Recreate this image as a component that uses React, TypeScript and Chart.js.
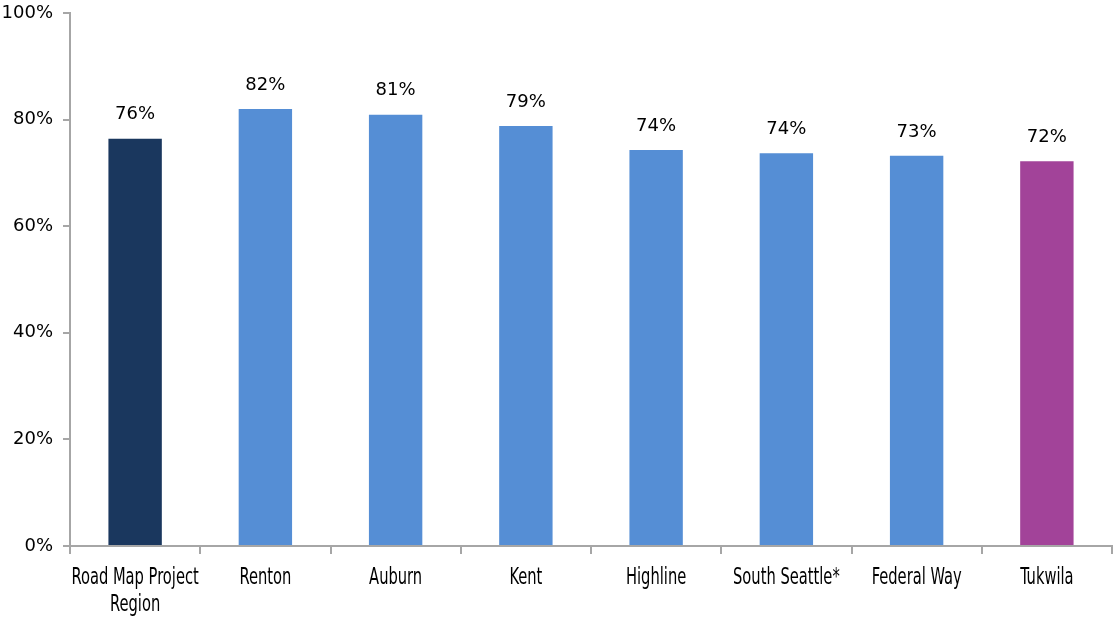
import React, { useEffect, useRef } from "react";
import { Chart, registerables } from "chart.js";

Chart.register(...registerables);

const categories: string[][] = [
  ["Road Map Project", "Region"],
  ["Renton"],
  ["Auburn"],
  ["Kent"],
  ["Highline"],
  ["South Seattle*"],
  ["Federal Way"],
  ["Tukwila"],
];
const values = [76.4, 82.0, 80.9, 78.8, 74.3, 73.7, 73.2, 72.2];
const valueLabels = ["76%", "82%", "81%", "79%", "74%", "74%", "73%", "72%"];
const barColors = ["#1A375E", "#558ED5", "#558ED5", "#558ED5", "#558ED5", "#558ED5", "#558ED5", "#A24399"];
const yTicks = [0, 20, 40, 60, 80, 100];

const labelPlugin = {
  id: "valueLabels",
  afterDatasetsDraw(chart: any) {
    const ctx = chart.ctx;
    const meta = chart.getDatasetMeta(0);
    ctx.save();
    ctx.font = "18px 'DejaVu Sans', sans-serif";
    ctx.fillStyle = "#000";
    ctx.textAlign = "center";
    ctx.textBaseline = "middle";
    meta.data.forEach((bar: any, i: number) => {
      ctx.fillText(valueLabels[i], bar.x, bar.y - 24);
    });
    // condensed category labels
    const xScale = chart.scales.x;
    const base = chart.chartArea.bottom;
    ctx.font = "23px 'DejaVu Sans Condensed', 'DejaVu Sans', sans-serif";
    const sx = 0.71;
    categories.forEach((lines, i) => {
      const cx = xScale.getPixelForValue(i);
      lines.forEach((line, j) => {
        ctx.save();
        ctx.translate(cx, base + 32 + j * 27);
        ctx.scale(sx, 1);
        ctx.fillText(line, 0, 0);
        ctx.restore();
      });
    });
    ctx.restore();
  },
};

export default function App() {
  const ref = useRef<HTMLCanvasElement | null>(null);
  useEffect(() => {
    document.body.style.margin = "0";
    const axisColor = "#A6A6A6";
    const chart = new Chart(ref.current!, {
      type: "bar",
      data: {
        labels: categories.map((c) => c.join(" ")),
        datasets: [
          {
            data: values,
            backgroundColor: barColors,
            categoryPercentage: 1,
            barPercentage: 0.41,
          },
        ],
      },
      options: {
        animation: false,
        responsive: false,
        maintainAspectRatio: false,
        layout: { padding: { top: 13, right: 6, left: 0, bottom: 0 } },
        plugins: { legend: { display: false }, tooltip: { enabled: false } },
        scales: {
          x: {
            grid: {
              offset: true,
              drawOnChartArea: false,
              drawTicks: true,
              tickLength: 8,
              color: axisColor,
              lineWidth: 2,
            },
            border: { color: axisColor, width: 2 },
            ticks: {
              color: "rgba(0,0,0,0)",
              font: { size: 10 },
              maxRotation: 0,
              autoSkip: false,
            },
            afterFit(scale: any) {
              scale.height = 71;
              scale.paddingLeft = 0;
              scale.paddingRight = 0;
            },
          },
          y: {
            min: 0,
            max: 100,
            afterBuildTicks(scale: any) {
              scale.ticks = yTicks.map((v) => ({ value: v }));
            },
            grid: {
              drawOnChartArea: false,
              drawTicks: true,
              tickLength: 7,
              color: axisColor,
              lineWidth: 2,
            },
            border: { color: axisColor, width: 2 },
            ticks: {
              color: "#000",
              font: { family: "'DejaVu Sans', sans-serif", size: 18 },
              padding: 10,
              callback: (v: any) => v + "%",
            },
            afterFit(scale: any) {
              scale.width = 70;
              scale.paddingTop = 0;
              scale.paddingBottom = 0;
            },
          },
        },
      },
      plugins: [labelPlugin],
    });
    return () => chart.destroy();
  }, []);
  return (
    <div style={{ width: 1118, height: 617 }}>
      <canvas ref={ref} width={1118} height={617} style={{ display: "block" }} />
    </div>
  );
}
